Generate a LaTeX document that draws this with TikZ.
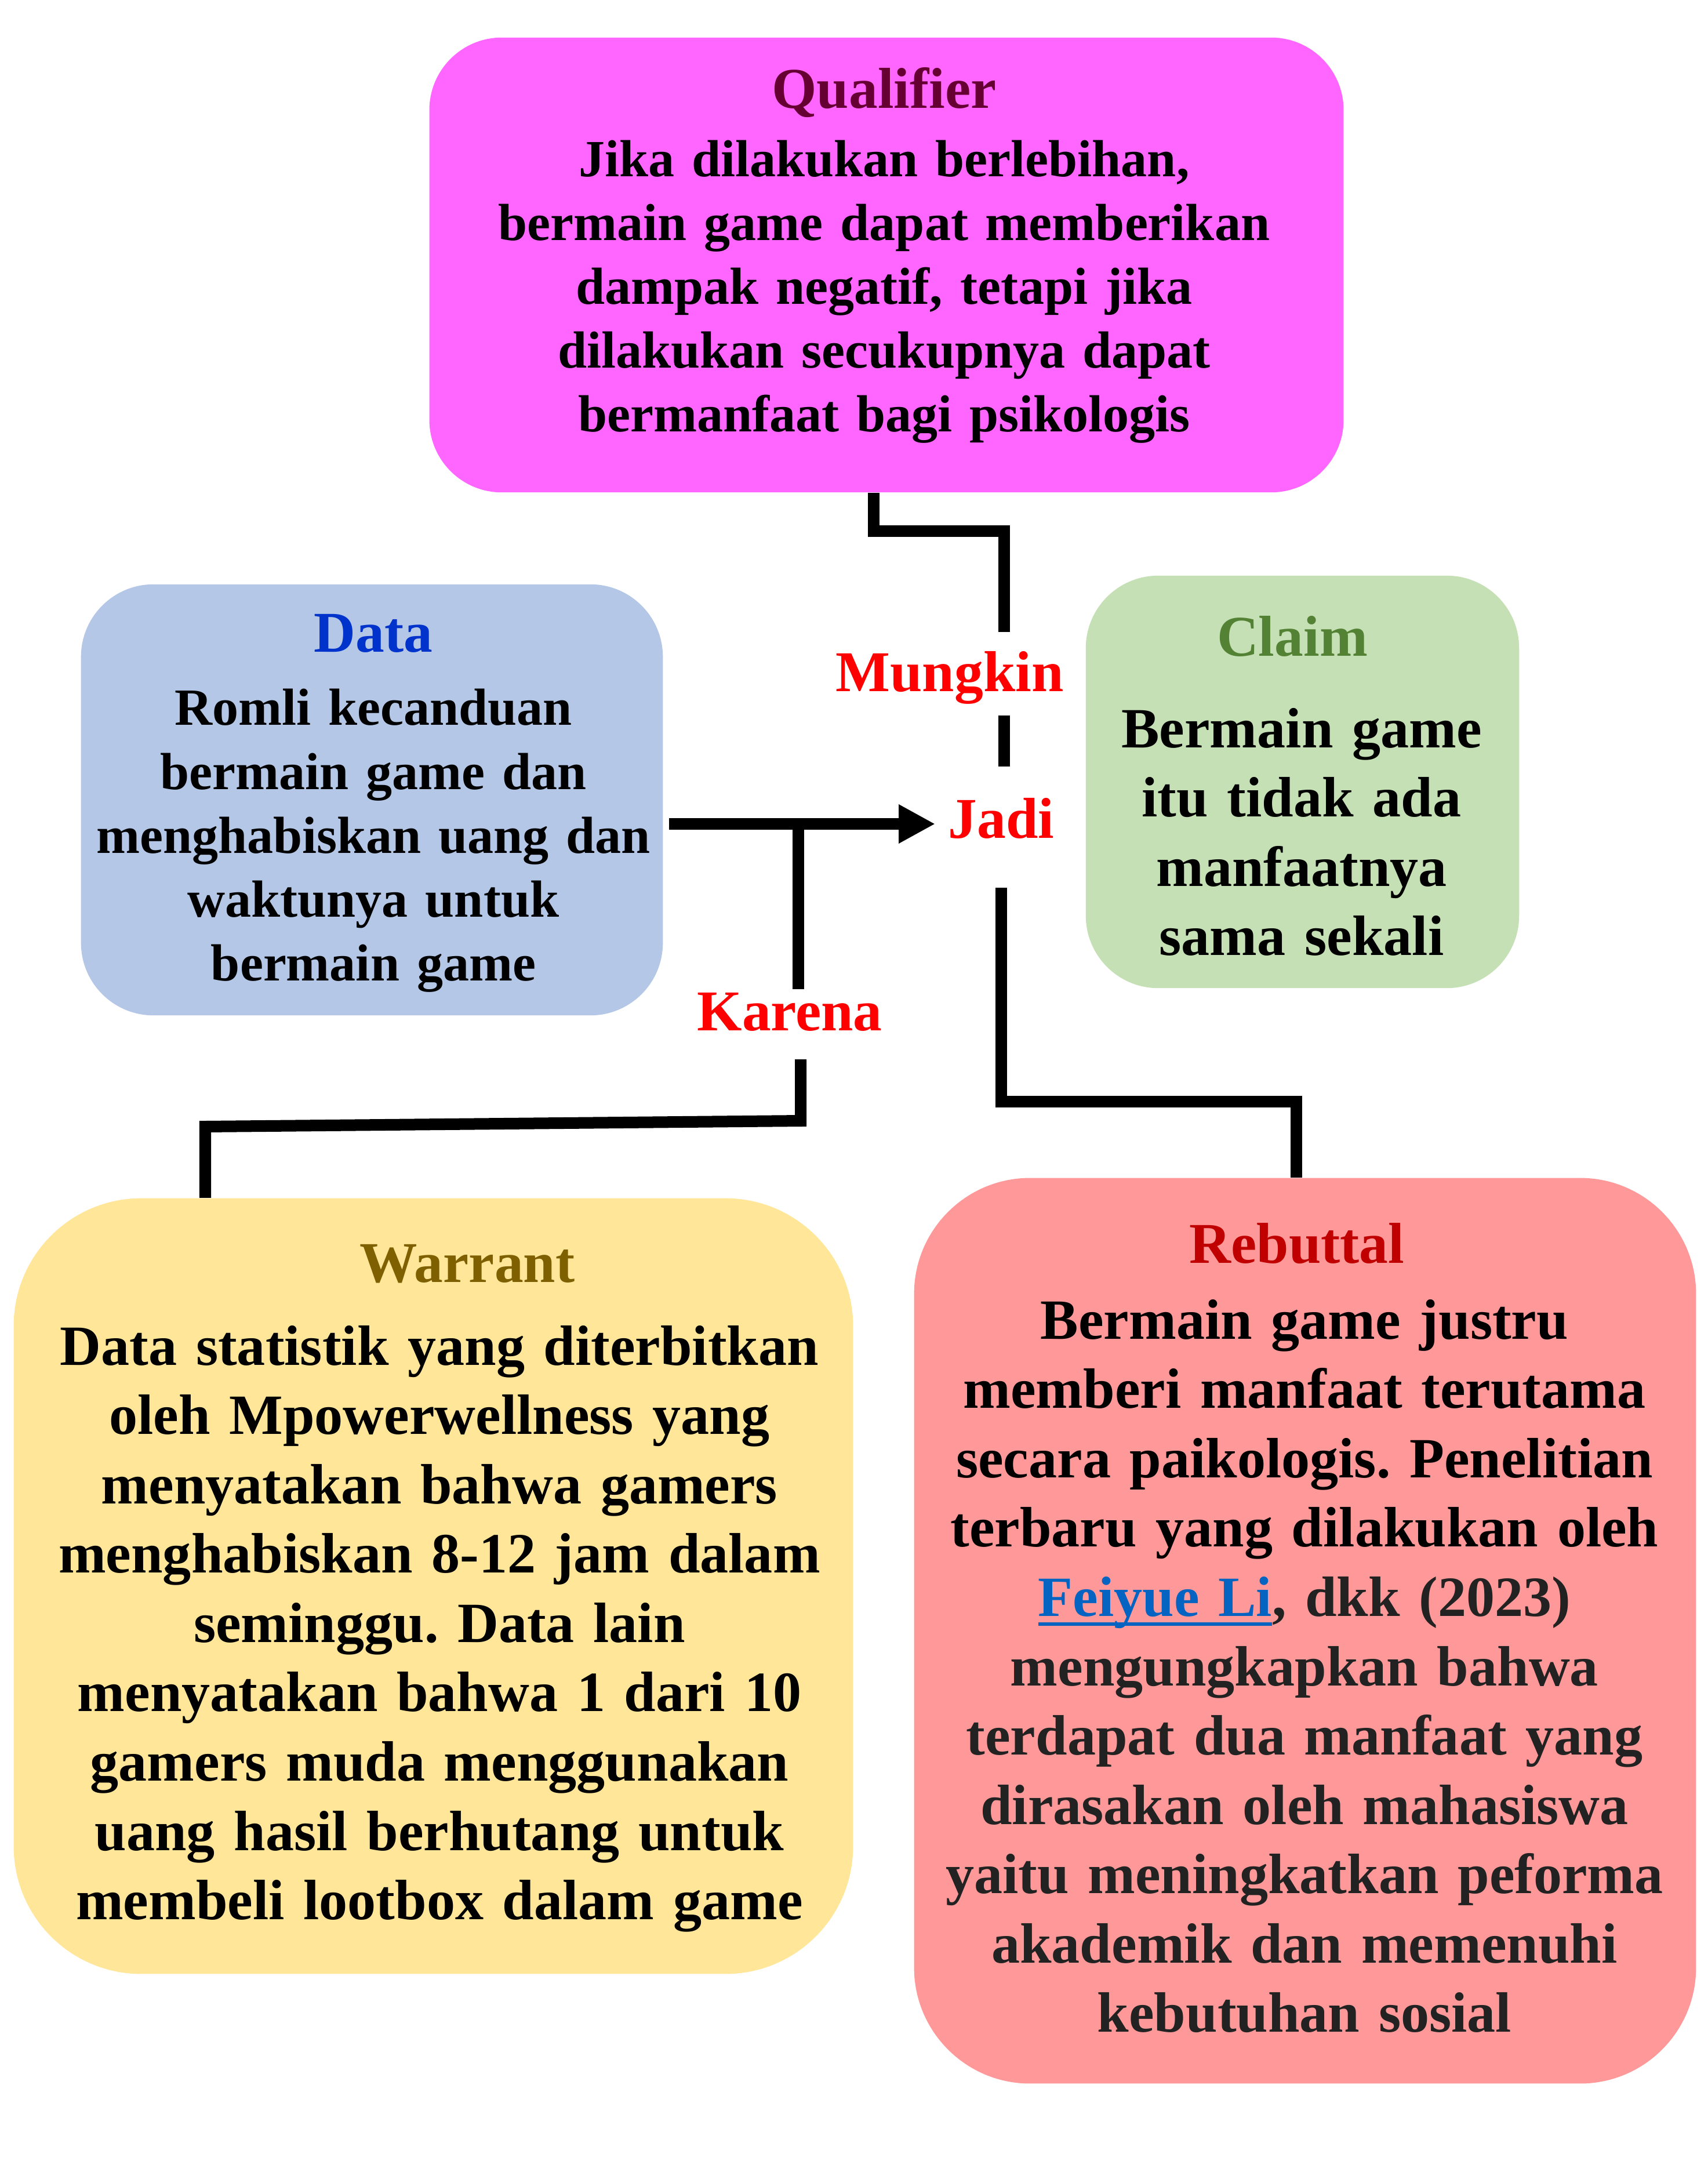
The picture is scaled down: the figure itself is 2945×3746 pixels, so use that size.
\documentclass[tikz,border=0pt]{standalone}
\usepackage{fontspec}
\setmainfont{Liberation Serif}
\usepackage{xcolor}
\usetikzlibrary{arrows.meta, calc, positioning}
\frenchspacing

\definecolor{qualfill}{HTML}{FF66FF}
\definecolor{qualtitle}{HTML}{660033}
\definecolor{datafill}{HTML}{B4C7E7}
\definecolor{datatitle}{HTML}{0033CC}
\definecolor{claimfill}{HTML}{C5E0B4}
\definecolor{claimtitle}{HTML}{548235}
\definecolor{warrantfill}{HTML}{FFE699}
\definecolor{warranttitle}{HTML}{7F6000}
\definecolor{rebutfill}{HTML}{FF9999}
\definecolor{rebuttitle}{HTML}{C00000}
\definecolor{linkblue}{HTML}{0563C1}
\definecolor{inkgray}{HTML}{222222}
\definecolor{cuered}{HTML}{FF0000}

\newcommand\headsize{\fontsize{28.3pt}{34pt}\selectfont}
\newcommand\bodylarge{\fontsize{27.9pt}{34pt}\selectfont}
\newcommand\bodysmall{\fontsize{25.6pt}{31.3pt}\selectfont}
\newcommand\reflink[1]{\leavevmode\setbox0=\hbox{#1}\rlap{\rule[-0.17em]{\wd0}{0.06em}}\box0}

\begin{document}
\begin{tikzpicture}[x=0.01cm, y=-0.01cm,
    card/.style={rectangle, inner sep=0pt, rounded corners=#1},
    card/.default=1.25cm,
    cardtext/.style={anchor=base, align=center, inner sep=0pt},
    cue/.style={anchor=base, inner sep=0pt, text=cuered, font=\bfseries\headsize},
    wire/.style={line width=2mm}]
  \useasboundingbox[fill=white] (0,0) rectangle (2945,3746);

  \node[card, fill=qualfill, minimum width=15.76cm, minimum height=7.84cm] (qualifier) at (1529,457) {};
  \node[card, fill=datafill, minimum width=10.03cm, minimum height=7.43cm] (data) at (641.5,1379.5) {};
  \node[card, fill=claimfill, minimum width=7.47cm, minimum height=7.11cm] (claim) at (2246.5,1348.5) {};
  \node[card=2.2cm, fill=warrantfill, minimum width=14.47cm, minimum height=13.37cm] (warrant) at (747.5,2735.5) {};
  \node[card=2cm, fill=rebutfill, minimum width=13.48cm, minimum height=15.61cm] (rebuttal) at (2251,2812.5) {};

  \node[cardtext, text width=15cm, font=\bfseries\bodysmall] (qualifiertext) at (1525,187)
    {{\headsize\color{qualtitle}Qualifier}\\[2pt]
     Jika dilakukan berlebihan,\\ bermain game dapat memberikan\\ dampak negatif, tetapi jika\\
     dilakukan secukupnya dapat\\ bermanfaat bagi psikologis};
  \node[cardtext, text width=9.8cm, font=\bfseries\bodysmall] (datatext) at (644,1124)
    {{\headsize\color{datatitle}Data}\\[4.8pt]
     Romli kecanduan\\ bermain game dan\\ menghabiskan uang dan\\ waktunya untuk\\ bermain game};
  \node[cardtext, text width=7.2cm, font=\bfseries\bodylarge] (claimtext) at (2245,1131)
    {{\headsize\color{claimtitle}Claim\kern0.32cm}\\[11pt]
     Bermain game\\ itu tidak ada\\ manfaatnya\\ sama sekali};
  \node[cardtext, text width=14cm, font=\bfseries\bodylarge] (warranttext) at (758,2211)
    {{\headsize\color{warranttitle}\hspace*{0.96cm}Warrant}\\[6.7pt]
     Data statistik yang diterbitkan\\ oleh Mpowerwellness yang\\ menyatakan bahwa gamers\\
     menghabiskan 8-12 jam dalam\\ seminggu. Data lain\\ menyatakan bahwa 1 dari 10\\
     gamers muda menggunakan\\ uang hasil berhutang untuk\\ membeli lootbox dalam game};
  \node[cardtext, text width=13.2cm, font=\bfseries\bodylarge] (rebuttaltext) at (2250,2178)
    {{\headsize\color{rebuttitle}Rebuttal\kern0.26cm}\\[3.3pt]
     Bermain game justru\\ memberi manfaat terutama\\ secara paikologis. Penelitian\\
     terbaru yang dilakukan oleh\\ {\color{linkblue}\reflink{Feiyue Li}}\color{inkgray}, dkk (2023)\\
     mengungkapkan bahwa\\ terdapat dua manfaat yang\\ dirasakan oleh mahasiswa\\
     yaitu meningkatkan peforma\\ akademik dan memenuhi\\ kebutuhan sosial};

  \node[cue] (mungkin) at (1638,1192) {Mungkin};
  \node[cue] (jadi) at (1727,1445) {Jadi};
  \node[cue] (karena) at (1362,1777) {Karena};

  \coordinate (qknee) at (1507,916);
  \coordinate (qturn) at (1732,916);
  \coordinate (qstop) at (1732,1090);
  \coordinate (dashtop) at (1732,1234);
  \coordinate (dashend) at (1732,1322);
  \coordinate (hub) at (1377,1421);
  \coordinate (hubstop) at (1377,1706);
  \coordinate (kfoot) at (1381,1827);
  \coordinate (kknee) at (1381,1933);
  \coordinate (wknee) at (354,1943);
  \coordinate (rtop) at (1727,1531);
  \coordinate (rknee) at (1727,1900);
  \coordinate (rturn) at (2236,1900);

  \draw[wire] (qualifier.south -| qknee) -- (qknee) -- (qturn) -- (qstop);
  \draw[wire] (dashtop) -- (dashend);
  \draw[wire, -{Triangle[length=6.3mm, width=6.3mm]}, shorten <=1mm, shorten >=2.2mm] (data.east |- hub) -- (jadi.west |- hub);
  \draw[wire] (hub) -- (hubstop);
  \draw[wire] (kfoot) -- (kknee) -- (wknee) -- (warrant.north -| wknee);
  \draw[wire] (rtop) -- (rknee) -- (rturn) -- (rebuttal.north -| rturn);
\end{tikzpicture}
\end{document}
